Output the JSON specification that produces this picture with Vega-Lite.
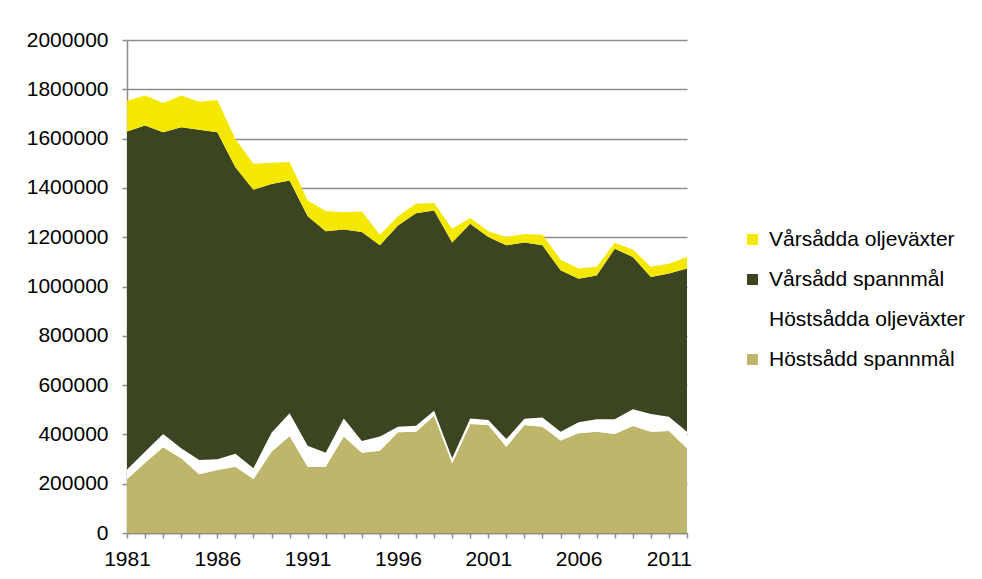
{
  "$schema": "https://vega.github.io/schema/vega-lite/v6.json",
  "width": 560,
  "height": 493,
  "autosize": "none",
  "padding": {"left": 127, "top": 40, "right": 295, "bottom": 46},
  "background": "white",
  "config": {"view": {"stroke": null}, "font": "Liberation Sans"},
  "data": {
    "values": [
      {"year": 1981, "Höstsådd spannmål": 218000, "Höstsådda oljeväxter": 40000, "Vårsådd spannmål": 1371000, "Vårsådda oljeväxter": 125000},
      {"year": 1982, "Höstsådd spannmål": 285000, "Höstsådda oljeväxter": 45000, "Vårsådd spannmål": 1323000, "Vårsådda oljeväxter": 122000},
      {"year": 1983, "Höstsådd spannmål": 348000, "Höstsådda oljeväxter": 54000, "Vårsådd spannmål": 1224000, "Vårsådda oljeväxter": 118000},
      {"year": 1984, "Höstsådd spannmål": 303000, "Höstsådda oljeväxter": 41000, "Vårsådd spannmål": 1302000, "Vårsådda oljeväxter": 129000},
      {"year": 1985, "Höstsådd spannmål": 238000, "Höstsådda oljeväxter": 58000, "Vårsådd spannmål": 1340000, "Vårsådda oljeväxter": 113000},
      {"year": 1986, "Höstsådd spannmål": 256000, "Höstsådda oljeväxter": 43000, "Vårsådd spannmål": 1327000, "Vårsådda oljeväxter": 131000},
      {"year": 1987, "Höstsådd spannmål": 269000, "Höstsådda oljeväxter": 52000, "Vårsådd spannmål": 1163000, "Vårsådda oljeväxter": 114000},
      {"year": 1988, "Höstsådd spannmål": 219000, "Höstsådda oljeväxter": 44000, "Vårsådd spannmål": 1130000, "Vårsådda oljeväxter": 105000},
      {"year": 1989, "Höstsådd spannmål": 330000, "Höstsådda oljeväxter": 77000, "Vårsådd spannmål": 1009000, "Vårsådda oljeväxter": 86000},
      {"year": 1990, "Höstsådd spannmål": 394000, "Höstsådda oljeväxter": 92000, "Vårsådd spannmål": 944000, "Vårsådda oljeväxter": 75000},
      {"year": 1991, "Höstsådd spannmål": 269000, "Höstsådda oljeväxter": 85000, "Vårsådd spannmål": 931000, "Vårsådda oljeväxter": 64000},
      {"year": 1992, "Höstsådd spannmål": 269000, "Höstsådda oljeväxter": 57000, "Vårsådd spannmål": 898000, "Vårsådda oljeväxter": 82000},
      {"year": 1993, "Höstsådd spannmål": 391000, "Höstsådda oljeväxter": 74000, "Vårsådd spannmål": 766000, "Vårsådda oljeväxter": 70000},
      {"year": 1994, "Höstsådd spannmål": 326000, "Höstsådda oljeväxter": 47000, "Vårsådd spannmål": 848000, "Vårsådda oljeväxter": 83000},
      {"year": 1995, "Höstsådd spannmål": 334000, "Höstsådda oljeväxter": 57000, "Vårsådd spannmål": 776000, "Vårsådda oljeväxter": 43000},
      {"year": 1996, "Höstsådd spannmål": 409000, "Höstsådda oljeväxter": 22000, "Vårsådd spannmål": 816000, "Vårsådda oljeväxter": 38000},
      {"year": 1997, "Höstsådd spannmål": 411000, "Höstsådda oljeväxter": 24000, "Vårsådd spannmål": 862000, "Vårsådda oljeväxter": 39000},
      {"year": 1998, "Höstsådd spannmål": 476000, "Höstsådda oljeväxter": 20000, "Vårsådd spannmål": 812000, "Vårsådda oljeväxter": 31000},
      {"year": 1999, "Höstsådd spannmål": 283000, "Höstsådda oljeväxter": 20000, "Vårsådd spannmål": 876000, "Vårsådda oljeväxter": 55000},
      {"year": 2000, "Höstsådd spannmål": 442000, "Höstsådda oljeväxter": 23000, "Vårsådd spannmål": 790000, "Vårsådda oljeväxter": 23000},
      {"year": 2001, "Höstsådd spannmål": 438000, "Höstsådda oljeväxter": 20000, "Vårsådd spannmål": 743000, "Vårsådda oljeväxter": 23000},
      {"year": 2002, "Höstsådd spannmål": 350000, "Höstsådda oljeväxter": 31000, "Vårsådd spannmål": 786000, "Vårsådda oljeväxter": 34000},
      {"year": 2003, "Höstsådd spannmål": 438000, "Höstsådda oljeväxter": 25000, "Vårsådd spannmål": 716000, "Vårsådda oljeväxter": 34000},
      {"year": 2004, "Höstsådd spannmål": 431000, "Höstsådda oljeväxter": 38000, "Vårsådd spannmål": 698000, "Vårsådda oljeväxter": 43000},
      {"year": 2005, "Höstsådd spannmål": 375000, "Höstsådda oljeväxter": 36000, "Vårsådd spannmål": 655000, "Vårsådda oljeväxter": 43000},
      {"year": 2006, "Höstsådd spannmål": 405000, "Höstsådda oljeväxter": 44000, "Vårsådd spannmål": 582000, "Vårsådda oljeväxter": 42000},
      {"year": 2007, "Höstsådd spannmål": 411000, "Höstsådda oljeväxter": 50000, "Vårsådd spannmål": 584000, "Vårsådda oljeväxter": 35000},
      {"year": 2008, "Höstsådd spannmål": 402000, "Höstsådda oljeväxter": 59000, "Vårsådd spannmål": 692000, "Vårsådda oljeväxter": 24000},
      {"year": 2009, "Höstsådd spannmål": 434000, "Höstsådda oljeväxter": 68000, "Vårsådd spannmål": 618000, "Vårsådda oljeväxter": 30000},
      {"year": 2010, "Höstsådd spannmål": 411000, "Höstsådda oljeväxter": 72000, "Vårsådd spannmål": 556000, "Vårsådda oljeväxter": 41000},
      {"year": 2011, "Höstsådd spannmål": 414000, "Höstsådda oljeväxter": 58000, "Vårsådd spannmål": 581000, "Vårsådda oljeväxter": 39000},
      {"year": 2012, "Höstsådd spannmål": 344000, "Höstsådda oljeväxter": 67000, "Vårsådd spannmål": 662000, "Vårsådda oljeväxter": 47000}
    ]
  },
  "transform": [
    {"fold": ["Höstsådd spannmål", "Höstsådda oljeväxter", "Vårsådd spannmål", "Vårsådda oljeväxter"], "as": ["Gröda", "Areal"]}
  ],
  "mark": {"type": "area", "interpolate": "linear"},
  "encoding": {
    "x": {
      "field": "year",
      "type": "quantitative",
      "scale": {"domain": [1981, 2012], "nice": false, "zero": false},
      "axis": {
        "title": null,
        "values": [1981,1982,1983,1984,1985,1986,1987,1988,1989,1990,1991,1992,1993,1994,1995,1996,1997,1998,1999,2000,2001,2002,2003,2004,2005,2006,2007,2008,2009,2010,2011,2012],
        "format": "d",
        "labelExpr": "(datum.value - 1981) % 5 == 0 ? datum.label : ''",
        "grid": false,
        "domainColor": "#8c8c8c",
        "domainWidth": 1.5,
        "tickColor": "#8c8c8c",
        "tickWidth": 1.5,
        "tickSize": 5,
        "labelFontSize": 21,
        "labelColor": "#000000",
        "labelPadding": 10,
        "labelFlush": false,
        "labelOverlap": false
      }
    },
    "y": {
      "field": "Areal",
      "type": "quantitative",
      "stack": "zero",
      "scale": {"domain": [0, 2000000], "nice": false},
      "axis": {
        "title": null,
        "values": [0,200000,400000,600000,800000,1000000,1200000,1400000,1600000,1800000,2000000],
        "format": "d",
        "grid": true,
        "gridColor": "#8c8c8c",
        "gridWidth": 1.5,
        "domainColor": "#8c8c8c",
        "domainWidth": 1.5,
        "tickColor": "#8c8c8c",
        "tickWidth": 1.5,
        "tickSize": 5,
        "labelFontSize": 21,
        "labelColor": "#000000",
        "labelPadding": 14,
        "labelOverlap": false
      }
    },
    "color": {
      "field": "Gröda",
      "type": "nominal",
      "scale": {
        "domain": ["Vårsådda oljeväxter", "Vårsådd spannmål", "Höstsådda oljeväxter", "Höstsådd spannmål"],
        "range": ["#F5E800", "#3C4521", "#FFFFFF", "#BEB76B"]
      },
      "legend": {
        "title": null,
        "orient": "none",
        "legendX": 615,
        "legendY": 189,
        "padding": 0,
        "symbolType": "square",
        "symbolSize": 121,
        "symbolStrokeWidth": 0,
        "symbolOpacity": 1,
        "labelFontSize": 21,
        "labelColor": "#000000",
        "labelOffset": 6,
        "rowPadding": 18,
        "labelLimit": 400
      }
    },
    "order": {"field": "Gröda", "type": "ordinal", "sort": "ascending"}
  }
}
